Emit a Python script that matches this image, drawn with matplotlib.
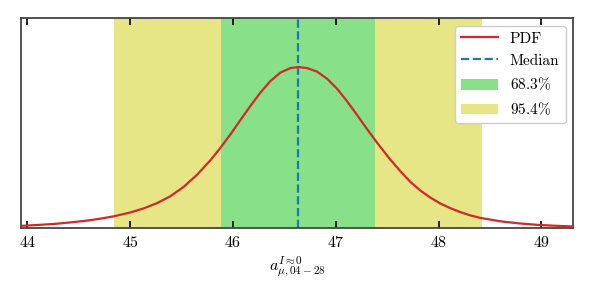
import matplotlib
matplotlib.use("Agg")
import matplotlib.pyplot as plt

plt.rcParams['font.family'] = 'serif'
plt.rcParams['font.serif'] = ['cmr10', 'DejaVu Serif']
plt.rcParams['mathtext.fontset'] = 'cm'
plt.rcParams['axes.formatter.use_mathtext'] = True

# PDF curve
x_pdf = [43.942, 44.100, 44.253, 44.420, 44.584, 44.710, 44.839, 45.002,
         45.131, 45.262, 45.391, 45.520, 45.651, 45.780, 45.877, 45.975,
         46.072, 46.169, 46.267, 46.364, 46.461, 46.558, 46.639, 46.721,
         46.818, 46.916, 47.013, 47.110, 47.207, 47.304, 47.402, 47.531,
         47.628, 47.725, 47.823, 47.920, 48.017, 48.115, 48.212, 48.309,
         48.407, 48.601, 48.780, 48.961, 49.120, 49.282, 49.310]
y_pdf = [0.0080, 0.0108, 0.0140, 0.0190, 0.0250, 0.0310, 0.0385, 0.0510,
         0.0640, 0.0810, 0.1030, 0.1330, 0.1720, 0.2180, 0.2580, 0.3010,
         0.3470, 0.3920, 0.4350, 0.4720, 0.4990, 0.5135, 0.5168, 0.5135,
         0.5020, 0.4790, 0.4470, 0.4070, 0.3630, 0.3180, 0.2740, 0.2200,
         0.1830, 0.1490, 0.1210, 0.0985, 0.0795, 0.0645, 0.0520, 0.0415,
         0.0335, 0.0225, 0.0160, 0.0112, 0.0085, 0.0062, 0.0060]

median = 46.63
ci68 = (45.88, 47.38)
ci95 = (44.84, 48.42)
xlim = (43.94, 49.31)
ytop = 0.6736
xticks = [44, 45, 46, 47, 48, 49]

fig = plt.figure(figsize=(5.91, 2.92), dpi=100)
ax = fig.add_axes([0.036, 0.218, 0.934, 0.72])

ax.axvspan(ci95[0], ci95[1], color='#e6e686', lw=0, label=r'$95.4\%$', zorder=0)
ax.axvspan(ci68[0], ci68[1], color='#88e088', lw=0, label=r'$68.3\%$', zorder=1)
ax.plot(x_pdf, y_pdf, color='#d62728', lw=1.6, label='PDF', zorder=3,
        solid_joinstyle='round')
ax.axvline(median, color='#1f77b4', ls='--', lw=1.6, label='Median', zorder=2)

ax.set_xlim(*xlim)
ax.set_ylim(0, ytop)
ax.set_xticks(xticks)
ax.set_xticklabels([f'${t}$' for t in xticks])
ax.set_yticks([])
ax.tick_params(axis='x', direction='in', top=True, length=5, width=1.2,
               labelsize=11.5, pad=5)
for s in ax.spines.values():
    s.set_color('#444444')
    s.set_linewidth(1.3)

ax.set_xlabel(r'$a^{I\approx0}_{\mu,04-28}$', fontsize=11.5, labelpad=3)

handles, labels = ax.get_legend_handles_labels()
order = [labels.index(l) for l in ['PDF', 'Median', r'$68.3\%$', r'$95.4\%$']]
ax.legend([handles[i] for i in order], [labels[i] for i in order],
          loc='upper right', fontsize=11, framealpha=1, edgecolor='#cccccc',
          borderaxespad=0.5, handlelength=2.4, labelspacing=0.55)

fig.savefig('out.png', dpi=100)
